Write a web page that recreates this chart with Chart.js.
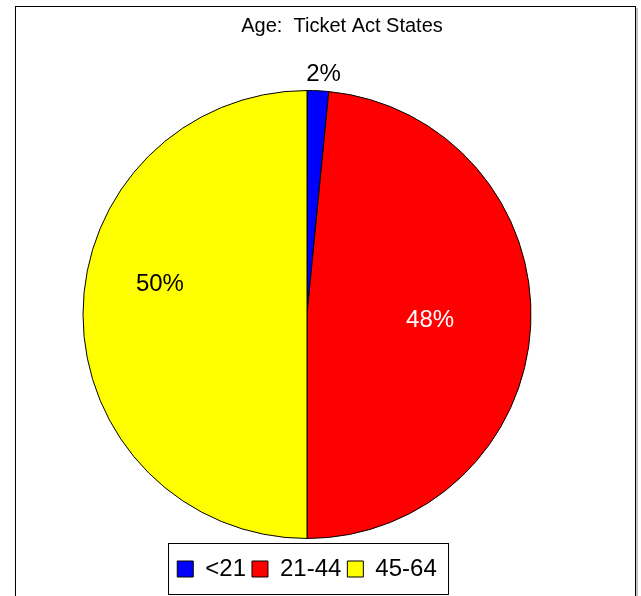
<!DOCTYPE html>
<html>
<head>
<meta charset="utf-8">
<script src="https://cdn.jsdelivr.net/npm/chart.js@4.4.0/dist/chart.umd.min.js"></script>
<style>
  html, body { margin: 0; padding: 0; background: #fff; }
  canvas { display: block; }
</style>
</head>
<body>
<canvas id="ageChart" width="641" height="596"></canvas>
<script>
// ===== Data =====
const chartTitle = "Age:  Ticket Act States";
const categories = ["<21", "21-44", "45-64"];
const shares = [1.55, 48.45, 50.0];
const sliceColors = ["#0000ff", "#ff0000", "#ffff00"];
const labelColors = ["#000000", "#ffffff", "#000000"];

const FONT = "'Liberation Sans', Arial, sans-serif";

// Frame around the whole chart + legend box outline
const framePlugin = {
  id: "frame",
  beforeDraw(chart) {
    const ctx = chart.ctx;
    ctx.save();
    ctx.fillStyle = "#fff";
    ctx.fillRect(0, 0, chart.width, chart.height);
    ctx.strokeStyle = "#000";
    ctx.lineWidth = 1;
    ctx.strokeRect(15.5, 6.5, 620, 640);
    ctx.strokeStyle = "#888";
    ctx.beginPath();
    ctx.moveTo(637, 8);
    ctx.lineTo(637, chart.height);
    ctx.stroke();
    ctx.restore();
  },
  afterDraw(chart) {
    const boxes = chart.legend.legendHitBoxes;
    if (!boxes.length) return;
    const left = Math.min(...boxes.map(b => b.left)) - 9;
    const right = Math.max(...boxes.map(b => b.left + b.width)) + 12;
    const top = boxes[0].top - 14;
    const bottom = boxes[0].top + boxes[0].height + 13;
    const ctx = chart.ctx;
    ctx.save();
    ctx.strokeStyle = "#000";
    ctx.lineWidth = 1;
    ctx.strokeRect(Math.round(left) + 0.5, Math.round(top) + 0.5, Math.round(right - left), Math.round(bottom - top));
    ctx.restore();
  }
};

// Title, drawn a little right of the pie like the original
const titlePlugin = {
  id: "offsetTitle",
  afterDraw(chart) {
    const ctx = chart.ctx;
    ctx.save();
    ctx.font = "20px " + FONT;
    ctx.fillStyle = "#000";
    ctx.textAlign = "center";
    ctx.textBaseline = "middle";
    ctx.fillText(chartTitle, 342, 26);
    ctx.restore();
  }
};

// Percent labels on the slices
const pctPlugin = {
  id: "pctLabels",
  afterDatasetsDraw(chart, args, opts) {
    const ctx = chart.ctx;
    const meta = chart.getDatasetMeta(0);
    const values = chart.data.datasets[0].data;
    const total = values.reduce((a, b) => a + b, 0);
    ctx.save();
    ctx.font = "24px " + FONT;
    ctx.textAlign = "center";
    ctx.textBaseline = "middle";
    meta.data.forEach((arc, i) => {
      const p = arc.getProps(["x", "y", "startAngle", "endAngle", "outerRadius"], true);
      const mid = (p.startAngle + p.endAngle) / 2 + opts.nudge[i];
      const r = p.outerRadius * opts.radius[i];
      ctx.fillStyle = labelColors[i];
      ctx.fillText(Math.round(values[i] / total * 100) + "%",
        p.x + Math.cos(mid) * r, p.y + Math.sin(mid) * r);
    });
    ctx.restore();
  }
};

new Chart(document.getElementById("ageChart"), {
  type: "pie",
  data: {
    labels: categories,
    datasets: [{
      data: shares,
      backgroundColor: sliceColors,
      borderColor: "#000",
      borderWidth: 1,
      hoverOffset: 0,
    }],
  },
  options: {
    responsive: false,
    animation: false,
    events: [],
    layout: { padding: { left: 82.5, right: 109.5, top: 78, bottom: 5 } },
    plugins: {
      title: { display: false },
      tooltip: { enabled: false },
      legend: {
        position: "bottom",
        labels: {
          boxWidth: 16,
          boxHeight: 16,
          padding: 6,
          color: "#000",
          font: { family: FONT, size: 24 },
        },
      },
      pctLabels: { radius: [1.076, 0.55, 0.67], nudge: [0.02, 0, 0.2] },
    },
  },
  plugins: [framePlugin, titlePlugin, pctPlugin],
});
</script>
</body>
</html>
